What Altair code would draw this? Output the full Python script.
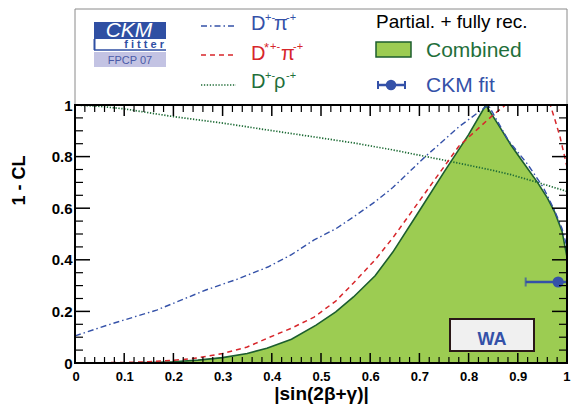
import altair as alt
import pandas as pd

# ---------------- data ----------------
comb_x = [0.00, 0.10, 0.15, 0.20, 0.25, 0.30, 0.35, 0.39, 0.44, 0.49, 0.53, 0.566, 0.61, 0.646,
          0.70, 0.75, 0.80, 0.835, 0.86, 0.886, 0.91, 0.94, 0.96, 0.975, 0.99, 1.00]
comb_y = [0.000, 0.000, 0.002, 0.005, 0.011, 0.021, 0.037, 0.057, 0.092, 0.147, 0.198, 0.256, 0.338, 0.43,
          0.59, 0.74, 0.885, 1.0, 0.925, 0.845, 0.78, 0.70, 0.64, 0.585, 0.51, 0.41]

dpi_x = [0.00, 0.066, 0.166, 0.266, 0.33, 0.392, 0.44, 0.486, 0.53, 0.566, 0.61, 0.646, 0.712,
         0.78, 0.84, 0.88, 0.92, 0.952, 0.975, 0.99, 1.00]
dpi_y = [0.105, 0.147, 0.205, 0.283, 0.325, 0.372, 0.42, 0.477, 0.52, 0.566, 0.625, 0.68, 0.80,
         0.915, 1.0, 0.865, 0.77, 0.68, 0.59, 0.52, 0.45]

dstpi_x = [0.00, 0.10, 0.15, 0.20, 0.25, 0.30, 0.35, 0.392, 0.44, 0.486, 0.53, 0.566, 0.61, 0.646,
           0.712, 0.78, 0.846, 0.875, 0.966, 0.976, 0.986, 1.00]
dstpi_y = [0.000, 0.002, 0.005, 0.010, 0.020, 0.037, 0.062, 0.097, 0.135, 0.178, 0.24, 0.31, 0.40, 0.485,
           0.66, 0.84, 0.955, 1.0, 1.0, 0.94, 0.875, 0.76]

drho_x = [0.00, 0.05, 0.10, 0.20, 0.30, 0.392, 0.48, 0.566, 0.646, 0.766, 0.846, 0.886, 0.94, 1.00]
drho_y = [1.0, 0.995, 0.985, 0.955, 0.93, 0.903, 0.878, 0.853, 0.826, 0.78, 0.748, 0.73, 0.70, 0.665]

ckm_x = [0.982]
ckm_y = [0.314]
ckm_lo = [0.916]
ckm_hi = [1.0]

x_major = [0, 0.1, 0.2, 0.3, 0.4, 0.5, 0.6, 0.7, 0.8, 0.9, 1.0]
y_major = [0, 0.2, 0.4, 0.6, 0.8, 1.0]
x_minor = [round(i * 0.02, 2) for i in range(51) if i % 5 != 0]
y_minor = [round(i * 0.05, 2) for i in range(21) if i % 4 != 0]

# ---------------- styling ----------------
W, H = 492, 258
FONT = "Liberation Sans"
BLUE = "#3451a8"
RED = "#d7262b"
GREEN_TXT = "#1f6f3b"
GREEN_FILL = "#9ccc52"
GREEN_LINE = "#1c5e2e"
DOT_GREEN = "#1d6b35"
LOGO_BLUE = "#2f4fa3"
LAVENDER = "#c3c3e3"

xscale = alt.Scale(domain=[0, 1], nice=False, zero=False)
yscale = alt.Scale(domain=[0, 1], nice=False, zero=False)

xaxis = alt.Axis(values=x_major, format="~g", ticks=False, domain=False, grid=False,
                 labelFont=FONT, labelFontWeight="bold", labelFontSize=13, labelPadding=7,
                 labelColor="black", labelFlush=True, labelFlushOffset=3, labelOverlap=False,
                 title="|sin(2β+γ)|", titleFont=FONT, titleFontWeight="bold", titleFontSize=19,
                 titleColor="black", titleX=W / 2, titleY=36, titleBaseline="alphabetic",
                 titleAlign="center")
yaxis = alt.Axis(values=y_major, format="~g", ticks=False, domain=False, grid=False,
                 labelFont=FONT, labelFontWeight="bold", labelFontSize=15, labelPadding=3,
                 labelColor="black", labelFlush=False, labelOverlap=False,
                 title="1 - CL", titleFont=FONT, titleFontWeight="bold", titleFontSize=18,
                 titleColor="black", titleX=-56, titleY=75, titleAngle=270,
                 titleBaseline="middle", titleAlign="center")

X = alt.X("x:Q", scale=xscale, axis=xaxis)
Y = alt.Y("y:Q", scale=yscale, axis=yaxis)


def df(xs, ys):
    return pd.DataFrame({"x": xs, "y": ys})


area = alt.Chart(df(comb_x, comb_y)).mark_area(color=GREEN_FILL, clip=True).encode(x=X, y=Y)
comb_line = alt.Chart(df(comb_x, comb_y)).mark_line(color=GREEN_LINE, strokeWidth=1.6, clip=True).encode(x=X, y=Y)
rho_line = alt.Chart(df(drho_x, drho_y)).mark_line(color=DOT_GREEN, strokeWidth=1.7,
                                                     strokeDash=[1.3, 1.6], clip=True).encode(x=X, y=Y)
pi_line = alt.Chart(df(dpi_x, dpi_y)).mark_line(color=BLUE, strokeWidth=1.4,
                                                 strokeDash=[6, 3, 1.5, 3], clip=True).encode(x=X, y=Y)
stpi_line = alt.Chart(df(dstpi_x, dstpi_y)).mark_line(color=RED, strokeWidth=1.5,
                                                      strokeDash=[5, 4], clip=True).encode(x=X, y=Y)

ckm_df = pd.DataFrame({"x": ckm_x, "y": ckm_y, "lo": ckm_lo, "hi": ckm_hi})
ckm_bar = alt.Chart(ckm_df).mark_rule(color=BLUE, strokeWidth=2.5, clip=True).encode(
    x=alt.X("lo:Q", scale=xscale, axis=xaxis), x2="hi:Q", y=Y)
ckm_cap = alt.Chart(ckm_df).mark_tick(color=BLUE, orient="vertical", size=9, thickness=2).encode(
    x=alt.X("lo:Q", scale=xscale, axis=xaxis), y=Y)
ckm_pt = alt.Chart(ckm_df).mark_point(color=BLUE, filled=True, opacity=1, size=125, shape="circle").encode(x=X, y=Y)

one = pd.DataFrame({"k": [0]})


def txt(s, x, y, size, color, weight="normal", style="normal", align="left"):
    return alt.Chart(one).mark_text(text=s, font=FONT, fontSize=size, color=color, fontWeight=weight,
                                    fontStyle=style, align=align, baseline="alphabetic").encode(
        x=alt.value(x), y=alt.value(y))


def rule(x1, y1, x2, y2, color, width, dash=None):
    kw = dict(color=color, strokeWidth=width)
    if dash:
        kw["strokeDash"] = dash
    return alt.Chart(one).mark_rule(**kw).encode(x=alt.value(x1), y=alt.value(y1),
                                                 x2=alt.value(x2), y2=alt.value(y2))


def box(x1, y1, x2, y2, fill, stroke=None, sw=1.0):
    kw = dict(fill=fill, strokeWidth=sw)
    if stroke:
        kw["stroke"] = stroke
    return alt.Chart(one).mark_rect(**kw).encode(x=alt.value(x1), y=alt.value(y1),
                                                 x2=alt.value(x2), y2=alt.value(y2))


# WA label box
wa = [box(375, 214, 459, 246, "#f0f0f0", "#2a1818", 2),
      txt("WA", 417, 240, 18, BLUE, weight="bold", align="center")]

# frames
outer = box(0, -96, W, H, "transparent", "#8a8a8a", 1)
frame = box(0, 0, W, H, "transparent", "black", 2)


# ticks
def ticks_x(vals, y1, y2, width):
    return alt.Chart(pd.DataFrame({"x": vals})).mark_rule(color="black", strokeWidth=width).encode(
        x=X, y=alt.value(y1), y2=alt.value(y2))


def ticks_y(vals, x1, x2, width):
    return alt.Chart(pd.DataFrame({"y": vals})).mark_rule(color="black", strokeWidth=width).encode(
        y=Y, x=alt.value(x1), x2=alt.value(x2))


tick_layers = [
    ticks_x(x_major, H, H - 10, 1.5), ticks_x(x_minor, H, H - 6, 1.2),
    ticks_x(x_major, 0, 11, 1.5), ticks_x(x_minor, 0, 7, 1.2),
    ticks_y(y_major, 0, 15, 1.5), ticks_y(y_minor, 0, 8, 1.2),
    ticks_y(y_major, W, W - 15, 1.5), ticks_y(y_minor, W, W - 8, 1.2),
]

# legend / logo
legend = [
    # CKMfitter logo
    box(19, -83, 91, -66, LOGO_BLUE),
    txt("CKM", 54, -68, 21, "white", style="italic", align="center"),
    rule(19.5, -66, 19.5, -55, LOGO_BLUE, 2),
    rule(19, -55, 91, -55, LOGO_BLUE, 1.5),
    txt("f i t t e r", 89, -57, 11, LOGO_BLUE, weight="bold", align="right"),
    box(19, -53, 91, -38, LAVENDER),
    txt("FPCP 07", 55, -41, 11, "#4a5aa8", align="center"),
    # D pi
    rule(126, -79, 161, -79, BLUE, 1.4, [6, 3, 1.5, 3]),
    txt("D", 176, -75, 20, BLUE), txt("+-", 190, -84, 11, BLUE),
    txt("π", 199, -75, 20, BLUE), txt("-+", 211, -84, 11, BLUE),
    # D* pi
    rule(126, -50, 161, -50, RED, 1.5, [5, 4]),
    txt("D", 176, -45, 20, RED), txt("*", 189, -53, 13, RED), txt("+-", 195, -55, 11, RED),
    txt("π", 206, -45, 20, RED), txt("-+", 218, -55, 11, RED),
    # D rho
    rule(126, -20, 161, -20, DOT_GREEN, 1.7, [1.3, 1.6]),
    txt("D", 176, -17, 20, GREEN_TXT), txt("+-", 190, -26, 11, GREEN_TXT),
    txt("ρ", 199, -17, 20, GREEN_TXT), txt("-+", 211, -26, 11, GREEN_TXT),
    # right column
    txt("Partial. + fully rec.", 301, -77, 19, "black"),
    box(301, -63, 336, -48, GREEN_FILL, GREEN_LINE, 1.5),
    txt("Combined", 351, -48, 21, GREEN_TXT),
    rule(303, -20, 330, -20, BLUE, 2.5),
    rule(303, -24, 303, -16, BLUE, 2), rule(330, -24, 330, -16, BLUE, 2),
    alt.Chart(one).mark_point(color=BLUE, filled=True, opacity=1, size=110, shape="circle").encode(
        x=alt.value(316), y=alt.value(-20)),
    txt("CKM fit", 351, -13, 21, BLUE),
]

layers = [area, comb_line, rho_line, pi_line, stpi_line, ckm_bar, ckm_cap, ckm_pt] + wa + \
         [outer, frame] + tick_layers + legend

chart = alt.layer(*layers).properties(
    width=W, height=H,
    autosize=alt.AutoSizeParams(type="none"),
    padding={"left": 67, "top": 97, "right": 4, "bottom": 43},
    background="white",
).configure_view(stroke=None)

chart.save("out.html", embed_options={"renderer": "svg", "actions": False})
